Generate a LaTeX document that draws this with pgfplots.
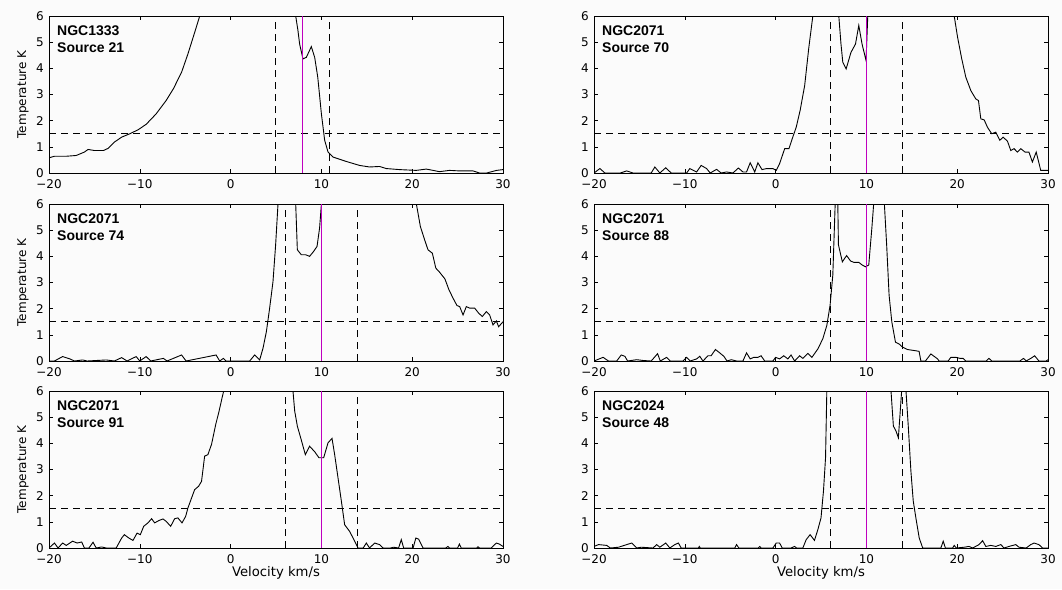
\documentclass[border=0pt]{standalone}
\usepackage{fontspec}
\setmainfont{DejaVu Sans}
\newfontfamily\lab{Liberation Sans}
\usepackage{pgfplots}
\pgfplotsset{compat=1.18}
\definecolor{mag}{rgb}{0.75,0,0.75}
\pgfplotsset{
 panel/.style={
   width=454pt, height=157pt, scale only axis,
   xmin=-20, xmax=30, ymin=0, ymax=6,
   xtick={-20,-10,0,10,20,30}, ytick={0,1,2,3,4,5,6},
   xticklabels={−20,−10,0,10,20,30},
   yticklabels={0,1,2,3,4,5,6},
   tick align=inside, major tick length=4pt,
   axis line style={line width=0.8pt},
   every tick/.style={black, line width=0.6pt},
   /pgf/number format/assume math mode=true,
   ticklabel style={font=\fontsize{12}{14}\selectfont, inner sep=0pt},
   xticklabel style={yshift=-6pt},
   yticklabel style={xshift=-5pt},
   anchor=south west,
   axis background/.style={fill=gray!3},
   ylabel style={font=\fontsize{12}{14}\selectfont, at={(axis description cs:-0.057,0.5)}, anchor=center},
   xlabel style={font=\fontsize{13.2}{16}\selectfont, at={(axis description cs:0.5,-0.156)}, anchor=center},
 },
 curve/.style={black, line width=0.9pt, no marks},
 dsh/.style={black, line width=0.9pt, dash pattern=on 7pt off 5pt, no marks},
 mg/.style={color=mag, line width=1.6pt, no marks},
}
\newcommand{\lbl}[1]{\node[anchor=north west, align=left, inner sep=0pt, xshift=8pt, yshift=-10pt, font=\lab\bfseries\fontsize{14}{17}\selectfont] at (rel axis cs:0,1) {#1};}
\begin{document}
\begin{tikzpicture}
\fill[gray!3] (0pt,0pt) rectangle (1062pt,-589pt);

% Panel 1
\begin{axis}[panel, at={(49pt,-173pt)}, ylabel={Temperature K}]
\addplot[curve] coordinates {(-20,0.58) (-19.4,0.64) (-18.1,0.64) (-17,0.67) (-16.1,0.8) (-15.7,0.9) (-15,0.86) (-14,0.86) (-13.5,0.94) (-12.8,1.18) (-12,1.37) (-11.1,1.5) (-10.2,1.65) (-9.3,1.86) (-8.2,2.26) (-7.1,2.77) (-6.3,3.22) (-5.4,3.85) (-4.7,4.55) (-3.95,5.38) (-3.4,6.0) (-2.5,7.5) (2,9) (6.5,8) (7.17,6.0) (7.42,5.44) (7.6,4.93) (7.97,4.36) (8.34,4.42) (8.89,4.83) (9.26,4.42) (9.6,3.66) (10.0,2.26) (10.36,1.25) (10.73,0.8) (11.28,0.61) (12.75,0.44) (14.2,0.29) (15.3,0.23) (16.4,0.25) (17.15,0.17) (18.6,0.13) (20.45,0.1) (21.55,0.15) (22.3,0.1) (23,0.05) (24.1,0.1) (25.2,0.08) (26.7,0.08) (27.4,0.0) (28.2,0) (29.3,0.1) (30,0.13)};
\addplot[dsh] coordinates {(-20,1.5) (30,1.5)};
\addplot[dsh] coordinates {(4.9,0) (4.9,6)};
\addplot[dsh] coordinates {(10.85,0) (10.85,6)};
\addplot[mg] coordinates {(7.9,0) (7.9,6)};
\lbl{NGC1333\\Source 21}
\end{axis}

% Panel 2
\begin{axis}[panel, at={(594pt,-173pt)}]
\addplot[curve] coordinates {(-20,0) (-19.35,0.17) (-18.8,0) (-17.1,0) (-16.4,0.08) (-15.7,0) (-13.7,0) (-13.3,0.23) (-12.75,0) (-12.1,0.2) (-11.5,0) (-9.8,0) (-9.45,0.17) (-8.7,0.04) (-8.2,0.29) (-7.6,0.17) (-7.2,0) (-6.5,0.14) (-6,0) (-5.4,0.04) (-4.7,0) (-4.1,0.19) (-3.6,0.04) (-3.2,0.04) (-2.8,0.39) (-2.3,0.04) (-1.95,0.39) (-1.5,0.13) (-1.0,0.17) (-0.3,0.17) (0.07,0.1) (0.44,0.36) (1.0,0.93) (1.47,0.93) (1.83,1.31) (2.27,1.75) (2.7,2.39) (3.2,3.34) (3.66,4.8) (4.1,6) (4.5,7.5) (5.5,9) (6.6,7.5) (6.96,6) (7.2,4.93) (7.4,4.23) (7.77,3.98) (8.3,4.61) (8.8,4.93) (9.16,5.64) (9.52,4.93) (9.96,4.3) (10.15,6) (10.5,8) (15,9) (19.3,7.5) (19.67,6) (20.04,5.19) (20.5,4.36) (20.95,3.66) (21.5,3.15) (22.05,2.83) (22.34,2.77) (22.6,2.07) (22.97,2.03) (23.33,1.75) (23.8,1.5) (24.25,1.56) (24.69,1.25) (25.05,1.37) (25.53,1.22) (25.9,0.86) (26.26,0.93) (26.63,0.8) (27,0.93) (27.47,0.8) (27.9,0.8) (28.28,0.42) (28.7,0.8) (29.2,0.1) (30,0.1)};
\addplot[dsh] coordinates {(-20,1.5) (30,1.5)};
\addplot[dsh] coordinates {(6,0) (6,6)};
\addplot[dsh] coordinates {(14,0) (14,6)};
\addplot[mg] coordinates {(10,0) (10,6)};
\lbl{NGC2071\\Source 70}
\end{axis}

% Panel 3
\begin{axis}[panel, at={(49pt,-361pt)}, ylabel={Temperature K}]
\addplot[curve] coordinates {(-20,0) (-19.4,0) (-18.5,0.17) (-17.7,0.08) (-17.2,0) (-16.3,0.04) (-15.8,0) (-13.7,0.04) (-12.8,0) (-12.0,0.13) (-11.4,0) (-10.4,0.17) (-10.0,0) (-9.3,0.17) (-8.8,0) (-7.4,0.1) (-7.0,0) (-5.4,0.23) (-4.9,0) (-1.6,0.23) (-1.2,0) (-0.8,0.1) (-0.5,0) (2.1,0) (2.65,0.23) (3.2,0.04) (3.57,0.49) (3.94,1.12) (4.3,2.02) (4.67,3.04) (4.96,4.44) (5.22,6) (5.6,7.5) (6.5,9) (7.0,7.5) (7.17,6) (7.35,4.25) (7.79,4.06) (8.27,4.06) (8.7,4.0) (9.15,4.19) (9.52,4.38) (9.8,5.08) (10.0,6) (10.4,7.5) (15,9) (20.1,7.5) (20.46,6) (20.9,5.14) (21.37,4.63) (21.74,4.25) (22.22,4.12) (22.6,3.55) (23.0,3.4) (23.6,3.14) (24.05,2.72) (24.5,2.4) (24.93,2.12) (25.23,2.08) (25.6,1.76) (25.96,2.08) (26.33,2.02) (26.88,2.02) (27.32,1.83) (27.72,1.7) (28.17,1.89) (28.53,1.76) (28.9,1.38) (29.27,1.53) (29.52,1.31) (30,1.5)};
\addplot[dsh] coordinates {(-20,1.5) (30,1.5)};
\addplot[dsh] coordinates {(6,0) (6,6)};
\addplot[dsh] coordinates {(14,0) (14,6)};
\addplot[mg] coordinates {(10,0) (10,6)};
\lbl{NGC2071\\Source 74}
\end{axis}

% Panel 4
\begin{axis}[panel, at={(594pt,-361pt)}]
\addplot[curve] coordinates {(-20,0) (-19,0.14) (-18.4,0) (-17.5,0) (-17,0.23) (-16.6,0.18) (-16.3,0) (-15.3,0.05) (-14.6,0.02) (-13.7,0) (-13.0,0.28) (-12.7,0) (-12.0,0.14) (-11.6,0) (-10.2,0) (-9.8,0.14) (-9.4,0) (-8.7,0.08) (-8.35,0.18) (-8,0) (-7.45,0.2) (-7.1,0.2) (-6.63,0.44) (-6.15,0.31) (-5.7,0.18) (-5.35,0) (-4.87,0.05) (-4.3,0) (-3.6,0) (-3.2,0.31) (-2.8,0.08) (-2.4,0.14) (-1.95,0.14) (-1.6,0.2) (-1.2,0) (-0.3,0) (0.0,0.14) (0.44,0.08) (0.9,0.2) (1.35,0.08) (1.7,0.23) (2.1,0) (2.64,0.2) (3.0,0.1) (3.55,0.29) (4.0,0.14) (4.65,0.46) (5.2,0.85) (5.64,1.36) (6.0,2.13) (6.3,3.28) (6.56,6) (6.7,8) (6.85,6) (6.92,4.44) (7.35,3.79) (7.82,4.03) (8.26,3.82) (8.62,3.77) (9.16,3.77) (9.53,3.67) (9.9,3.6) (10.26,3.67) (10.6,5.08) (10.8,6) (11.4,8) (11.98,6) (12.23,4.44) (12.5,2.51) (12.8,1.49) (13.2,0.72) (13.6,0.65) (13.98,0.53) (14.5,0.44) (15.27,0.4) (15.8,0.37) (16,0) (16.5,0) (17.1,0.27) (17.84,0.08) (18.0,0) (19.0,0) (19.3,0.14) (19.85,0.14) (20.3,0.1) (20.66,0.1) (20.95,0) (23.2,0) (23.5,0.1) (23.8,0) (26.9,0) (27.3,0.1) (27.6,0) (28.1,0.1) (28.53,0.2) (29,0) (29.8,0) (30,0.05)};
\addplot[dsh] coordinates {(-20,1.5) (30,1.5)};
\addplot[dsh] coordinates {(6,0) (6,6)};
\addplot[dsh] coordinates {(14,0) (14,6)};
\addplot[mg] coordinates {(10,0) (10,6)};
\lbl{NGC2071\\Source 88}
\end{axis}

% Panel 5
\begin{axis}[panel, at={(49pt,-548pt)}, ylabel={Temperature K}, xlabel={Velocity km/s}]
\addplot[curve] coordinates {(-20,0) (-19.4,0.19) (-19.0,0) (-18.5,0.19) (-18.1,0.1) (-17.4,0.26) (-16.9,0.19) (-16.4,0.23) (-16.1,0) (-15.6,0) (-15.15,0.22) (-14.8,0) (-14.2,0.04) (-13.7,0) (-12.6,0) (-12.0,0.38) (-11.7,0.51) (-11.2,0.38) (-10.75,0.29) (-10.3,0.57) (-9.94,0.51) (-9.57,0.83) (-9.1,0.96) (-8.7,1.12) (-8.36,0.96) (-7.9,1.05) (-7.45,1.11) (-7.1,1.02) (-6.6,0.83) (-6.16,1.12) (-5.8,1.15) (-5.35,0.96) (-4.95,1.21) (-4.7,1.53) (-4.3,1.91) (-3.96,2.23) (-3.52,2.36) (-3.2,2.55) (-2.86,3.51) (-2.5,3.57) (-2.1,3.96) (-1.64,4.72) (-1.27,5.23) (-0.9,5.8) (-0.76,6) (0,7.5) (3,9) (6.5,7.5) (6.87,6) (7.06,5.23) (7.35,4.66) (7.72,4.21) (8.23,3.57) (8.7,3.89) (9.26,3.68) (9.73,3.45) (10.25,3.45) (10.73,4.02) (11.17,4.19) (11.46,3.57) (11.83,2.68) (12.2,1.79) (12.56,0.89) (13.1,0.64) (13.67,0.26) (14.03,0) (14.6,0) (14.95,0.19) (15.3,0) (15.87,0.19) (16.4,0.13) (16.8,0) (17.6,0) (17.95,0.03) (18.5,0) (18.8,0.32) (19.06,0) (20.1,0) (20.4,0.38) (20.7,0.34) (21.2,0) (23.7,0) (23.94,0.06) (24.1,0) (25.0,0) (25.2,0.15) (25.4,0) (27.1,0) (27.25,0.05) (27.4,0) (28.7,0) (29.27,0.19) (29.6,0.15) (30,0.06)};
\addplot[dsh] coordinates {(-20,1.5) (30,1.5)};
\addplot[dsh] coordinates {(6,0) (6,6)};
\addplot[dsh] coordinates {(14,0) (14,6)};
\addplot[mg] coordinates {(10,0) (10,6)};
\lbl{NGC2071\\Source 91}
\end{axis}

% Panel 6
\begin{axis}[panel, at={(594pt,-548pt)}, xlabel={Velocity km/s}]
\addplot[curve] coordinates {(-20,0.06) (-19.5,0.13) (-18.6,0.1) (-18.2,0) (-17.3,0.03) (-16.4,0.13) (-15.85,0.19) (-15.3,0) (-14.8,0.03) (-13.5,0) (-13.1,0.13) (-12.75,0.03) (-12.1,0.19) (-11.65,0) (-11.1,0.13) (-10.7,0.19) (-10.4,0) (-8.5,0) (-8.4,0.06) (-8.3,0) (-4.5,0) (-4.3,0.13) (-4.05,0) (-1.9,0) (-1.75,0.06) (-1.6,0) (-0.3,0) (0.07,0.19) (0.44,0.19) (0.73,0) (1.7,0) (2.1,0.06) (2.3,0) (3.0,0) (3.37,0.32) (3.8,0.51) (4.28,0.29) (4.65,0.7) (5.0,1.15) (5.27,2.17) (5.5,3.45) (5.64,6) (6,8) (9,9) (12.4,8) (12.71,6) (12.97,4.66) (13.26,4.47) (13.52,4.21) (13.7,5.1) (13.88,6) (14.1,8) (14.36,6) (14.6,4.72) (14.9,2.94) (15.16,1.79) (15.45,1.15) (15.82,0.38) (16.2,0) (18.2,0) (18.46,0.26) (18.7,0) (19.5,0) (19.67,0.1) (19.9,0) (20.77,0.03) (21.3,0.06) (21.7,0) (22.4,0.13) (22.8,0.28) (23.15,0.06) (23.7,0.1) (24.25,0.06) (24.8,0.13) (25.16,0) (25.7,0.06) (26.45,0.13) (26.8,0.03) (27.6,0) (28.1,0.13) (28.46,0.19) (29.0,0.13) (29.4,0) (30,0)};
\addplot[dsh] coordinates {(-20,1.5) (30,1.5)};
\addplot[dsh] coordinates {(6,0) (6,6)};
\addplot[dsh] coordinates {(14,0) (14,6)};
\addplot[mg] coordinates {(10,0) (10,6)};
\lbl{NGC2024\\Source 48}
\end{axis}
\end{tikzpicture}
\end{document}
